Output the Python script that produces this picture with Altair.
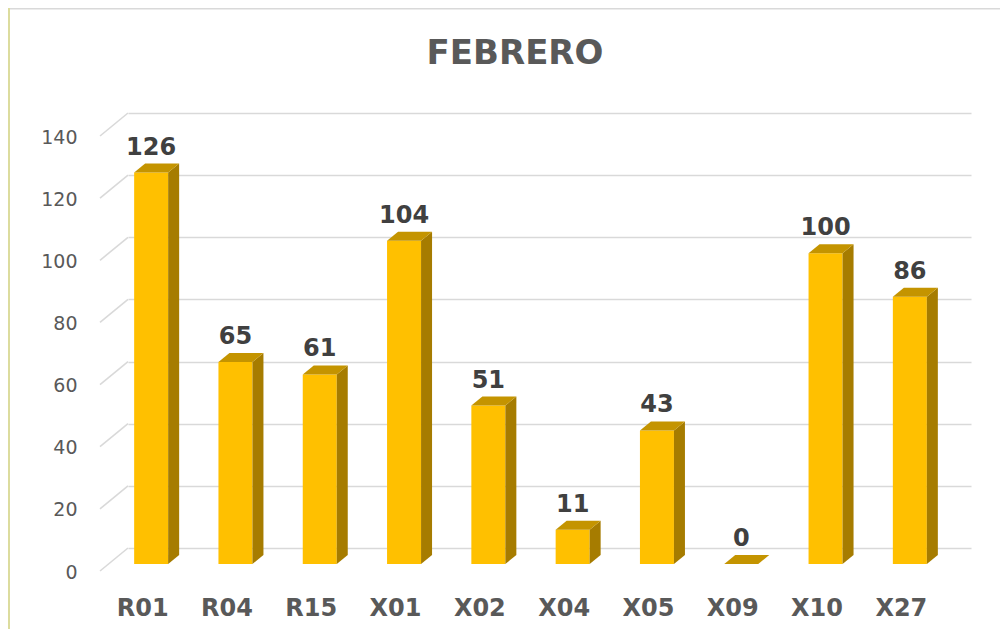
import json
import altair as alt
import pandas as pd

categories = ["R01", "R04", "R15", "X01", "X02", "X04", "X05", "X09", "X10", "X27"]
values = [126, 65, 61, 104, 51, 11, 43, 0, 100, 86]
y_ticks = [0, 20, 40, 60, 80, 100, 120, 140]
chart_title = "FEBRERO"

W, H = 843, 435
YMAX = 140
XU = W / len(categories)      # px per category unit
YU = H / YMAX                 # px per value unit
SX, SY = -19 / XU, -16 / YU   # bar front plane relative to back wall
HW = 17 / XU                  # half width of bar front face
DX, DY = 11 / XU, 9 / YU      # bar depth
LX, LY = -28 / XU, -23 / YU   # front edge of floor

idx = list(range(len(categories)))
bars = pd.DataFrame({"cat": categories, "v": values, "i": idx})
bars["xl"] = bars["i"] + SX - HW
bars["xr"] = bars["i"] + SX + HW
bars["xc"] = bars["i"] + SX
bars["y0"] = SY
bars["y1"] = bars["v"] + SY

side_rows, top_rows = [], []
for _, r in bars.iterrows():
    for k in (0, 1):
        side_rows.append({"cat": str(r["cat"]), "x": float(r["xr"] + k * DX),
                          "ylo": float(SY + k * DY), "yhi": float(r["y1"] + k * DY)})
        top_rows.append({"cat": str(r["cat"]), "y": float(r["y1"] + k * DY),
                         "xa": float(r["xl"] + k * DX), "xb": float(r["xr"] + k * DX)})
side = pd.DataFrame(side_rows)
top = pd.DataFrame(top_rows)

ticks = pd.DataFrame({"t": y_ticks})
ticks["ya"] = ticks["t"] + LY
ticks["xa"] = -0.5 + LX
ticks["xb"] = -0.5

xs = alt.Scale(domain=[-0.5, len(categories) - 0.5], nice=False, zero=False)
ys = alt.Scale(domain=[0, YMAX], nice=False, zero=False)

label_expr = json.dumps(categories) + "[datum.value]"

FONT = "DejaVu Sans"

xax = alt.Axis(values=idx, labelExpr=label_expr, grid=False, domain=False,
               ticks=False, tickSize=0, labelOffset=-28, labelPadding=67,
               labelBaseline="alphabetic", labelFont=FONT, labelFontWeight="bold",
               labelFontSize=24, labelColor="#595959", title=None)
yax = alt.Axis(values=y_ticks, grid=True, gridColor="#D9D9D9", gridWidth=1.6,
               domain=False, ticks=False, tickSize=0, labelPadding=51,
               labelOffset=30, labelBaseline="alphabetic", labelFont=FONT,
               labelFontSize=19, labelColor="#595959", title=None)


def X(f):
    return alt.X(f, scale=xs, axis=xax, title=None)


def Y(f):
    return alt.Y(f, scale=ys, axis=yax, title=None)


front = alt.Chart(bars).mark_rect(color="#FFC000").encode(
    x=X("xl:Q"), x2="xr:Q", y=Y("y0:Q"), y2="y1:Q",
)

side_face = alt.Chart(side).mark_area(color="#A67C00", orient="vertical", opacity=1).encode(
    x=X("x:Q"), y=alt.Y("ylo:Q", scale=ys, axis=yax, title=None, stack=None),
    y2="yhi:Q", detail="cat:N",
)

top_face = alt.Chart(top).mark_area(color="#C49400", orient="horizontal", opacity=1).encode(
    y=Y("y:Q"), x=alt.X("xa:Q", scale=xs, axis=xax, title=None, stack=None),
    x2="xb:Q", detail="cat:N",
)

diag = alt.Chart(ticks).mark_rule(color="#D9D9D9", strokeWidth=1.6).encode(
    x=X("xa:Q"), x2="xb:Q", y=Y("ya:Q"), y2="t:Q",
)

labels = alt.Chart(bars).mark_text(
    dy=-18, baseline="alphabetic", font=FONT, fontWeight="bold", fontSize=24, color="#404040"
).encode(
    x=X("xc:Q"), y=Y("y1:Q"), text="v:Q",
)

title = alt.Chart(pd.DataFrame({"t": [chart_title]})).mark_text(
    baseline="alphabetic", align="center", font=FONT, fontWeight="bold", fontSize=34,
    color="#595959"
).encode(x=alt.value(387), y=alt.value(-49), text="t:N")

border_top = alt.Chart(pd.DataFrame({"a": [0]})).mark_rule(color="#D9D9D9", strokeWidth=1.5).encode(
    x=alt.value(-120), x2=alt.value(872), y=alt.value(-104.2), y2=alt.value(-104.2))
border_left = alt.Chart(pd.DataFrame({"a": [0]})).mark_rule(color="#DCDC9E", strokeWidth=2).encode(
    x=alt.value(-119), x2=alt.value(-119), y=alt.value(-105), y2=alt.value(H + 81))

chart = alt.layer(
    border_top, border_left, diag, front, side_face, top_face, labels, title
).properties(
    width=W, height=H,
    background="white",
    autosize=alt.AutoSizeParams(type="none"),
    padding={"left": 120, "top": 105, "right": 29, "bottom": 81},
).configure_view(stroke=None)

chart.save("out.html", embed_options={"renderer": "svg", "actions": False})
